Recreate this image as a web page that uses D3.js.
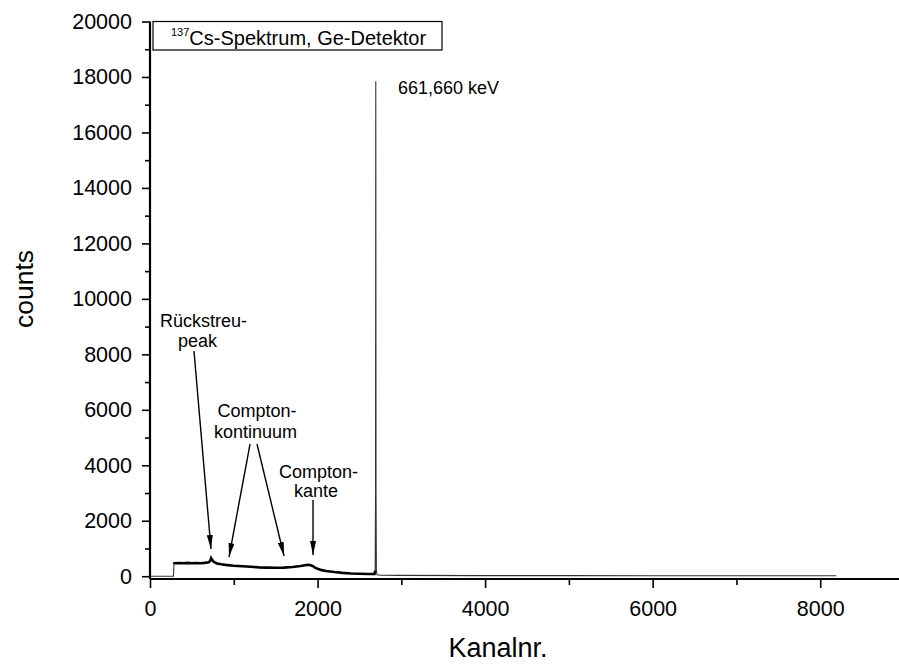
<!DOCTYPE html>
<html><head><meta charset="utf-8">
<script src="https://cdn.jsdelivr.net/npm/d3@7"></script>
<style>
body{margin:0;background:#fff;}
svg text{font-family:"Liberation Sans",Arial,Helvetica,sans-serif;fill:#000;}
</style></head>
<body><svg id="c" width="899" height="666"></svg>
<script>
// Spectrum data (channel number, counts)
const channels = [0, 280, 286, 290, 350, 400, 450, 500, 550, 600, 650, 700, 720, 730, 740, 760, 800, 850, 900, 1000, 1100, 1200, 1300, 1400, 1500, 1600, 1700, 1800, 1850, 1880, 1910, 1940, 1970, 2000, 2050, 2100, 2200, 2300, 2400, 2500, 2600, 2680, 2688, 2692, 2695, 2698, 2702, 2710, 2750, 3000, 4000, 5000, 6000, 7000, 8000, 8192];
const counts   = [0, 0, 440, 470, 475, 470, 480, 470, 475, 470, 480, 500, 560, 650, 600, 520, 460, 430, 410, 380, 360, 340, 320, 310, 305, 310, 330, 370, 395, 410, 405, 370, 310, 270, 220, 190, 150, 120, 100, 90, 82, 80, 200, 3000, 17850, 3000, 200, 50, 35, 30, 22, 20, 18, 18, 16, 15];

const xMajorTicks = [0, 2000, 4000, 6000, 8000];
const xMinorTicks = [1000, 3000, 5000, 7000, 9000];
const yMajorTicks = [0, 2000, 4000, 6000, 8000, 10000, 12000, 14000, 16000, 18000, 20000];
const yMinorTicks = [1000, 3000, 5000, 7000, 9000, 11000, 13000, 15000, 17000, 19000];

const xTitle = "Kanalnr.";
const yTitle = "counts";
const legendSup = "137";
const legendText = "Cs-Spektrum, Ge-Detektor";

// Annotation labels (anchor in data units) and arrows (start -> tip, data units)
const labelTexts = ["Rückstreu-", "peak", "Compton-", "kontinuum", "Compton-", "kante"];
const labelCh    = [639, 567, 1277, 1259, 2011, 1981];
const labelCnt   = [8996, 8275, 5752, 4984, 3542, 2857];
const arrowFromCh  = [525, 1194, 1277, 1946];
const arrowFromCnt = [8121, 4767, 4767, 2749];
const arrowToCh    = [728, 943, 1600, 1946];
const arrowToCnt   = [981, 693, 729, 765];
const peakLabel = "661,660 keV";
const peakLabelCh = 2960, peakLabelCnt = 17386;

const svg = d3.select("#c");
const x = d3.scaleLinear().domain([0, 9000]).range([150, 904]);
const y = d3.scaleLinear().domain([-100, 20000]).range([579, 21.5]);

const data = channels.map((c, i) => ({c, v: counts[i]}));
const line = d3.line().x(d => x(d.c)).y(d => y(d.v));

// thin full spectrum
svg.append("path").datum(data).attr("d", line)
  .attr("fill", "none").attr("stroke", "#333").attr("stroke-width", 1.1);
// thicker noisy continuum region
svg.append("path").datum(data.filter(d => d.c >= 286 && d.c <= 2688)).attr("d", line)
  .attr("fill", "none").attr("stroke", "#000").attr("stroke-width", 2.6);

// axes
const gx = svg.append("g").attr("transform", "translate(0,579)");
gx.call(d3.axisBottom(x).tickValues(xMajorTicks).tickSize(9).tickPadding(10).tickFormat(d3.format("d")));
const gxm = svg.append("g").attr("transform", "translate(0,579)");
gxm.call(d3.axisBottom(x).tickValues(xMinorTicks).tickSize(6).tickFormat(""));
gxm.select(".domain").remove();

const gy = svg.append("g").attr("transform", "translate(150,0)");
gy.call(d3.axisLeft(y).tickValues(yMajorTicks).tickSize(8).tickPadding(10).tickFormat(d3.format("d")));
const gym = svg.append("g").attr("transform", "translate(150,0)");
gym.call(d3.axisLeft(y).tickValues(yMinorTicks).tickSize(5).tickFormat(""));
gym.select(".domain").remove();

[gx, gy].forEach(g => {
  g.select(".domain").attr("stroke", "#000").attr("stroke-width", 2.2);
  g.selectAll("text").attr("font-size", 21.5).attr("font-family", '"Liberation Sans", Arial, sans-serif').attr("fill", "#000");
});
gx.select(".domain").attr("d", "M150,0H899");
gy.select(".domain").attr("d", "M0,579V21.5");
svg.selectAll(".tick line").attr("stroke", "#000").attr("stroke-width", 1.6);
gx.selectAll("text").attr("dy", "0.85em");

// axis titles
svg.append("text").attr("x", 498).attr("y", 657).attr("text-anchor", "middle")
  .attr("font-size", 27).text(xTitle);
svg.append("text").attr("transform", "translate(33,289) rotate(-90)").attr("text-anchor", "middle")
  .attr("font-size", 26.5).text(yTitle);

// legend box
svg.append("rect").attr("x", 153).attr("y", 21.5).attr("width", 289).attr("height", 28.5)
  .attr("fill", "#fff").attr("stroke", "#000").attr("stroke-width", 1.2);
const lt = svg.append("text").attr("x", 171).attr("y", 44.5).attr("font-size", 20);
lt.append("tspan").attr("font-size", 11).attr("dy", -9).text(legendSup);
lt.append("tspan").attr("dy", 9).text(legendText);

// peak label
svg.append("text").attr("x", x(peakLabelCh)).attr("y", y(peakLabelCnt)).attr("font-size", 18).text(peakLabel);

// annotation labels
labelTexts.forEach((t, i) => {
  svg.append("text").attr("x", x(labelCh[i])).attr("y", y(labelCnt[i]))
    .attr("text-anchor", "middle").attr("font-size", 18).text(t);
});

// arrows
svg.append("defs").append("marker").attr("id", "ah")
  .attr("viewBox", "0 0 14 6").attr("refX", 14).attr("refY", 3)
  .attr("markerWidth", 14).attr("markerHeight", 6).attr("markerUnits", "userSpaceOnUse")
  .attr("orient", "auto")
  .append("path").attr("d", "M0,0L14,3L0,6Z").attr("fill", "#000");
arrowFromCh.forEach((c, i) => {
  svg.append("line").attr("x1", x(c)).attr("y1", y(arrowFromCnt[i]))
    .attr("x2", x(arrowToCh[i])).attr("y2", y(arrowToCnt[i]))
    .attr("stroke", "#000").attr("stroke-width", 1.4).attr("marker-end", "url(#ah)");
});
</script></body></html>
